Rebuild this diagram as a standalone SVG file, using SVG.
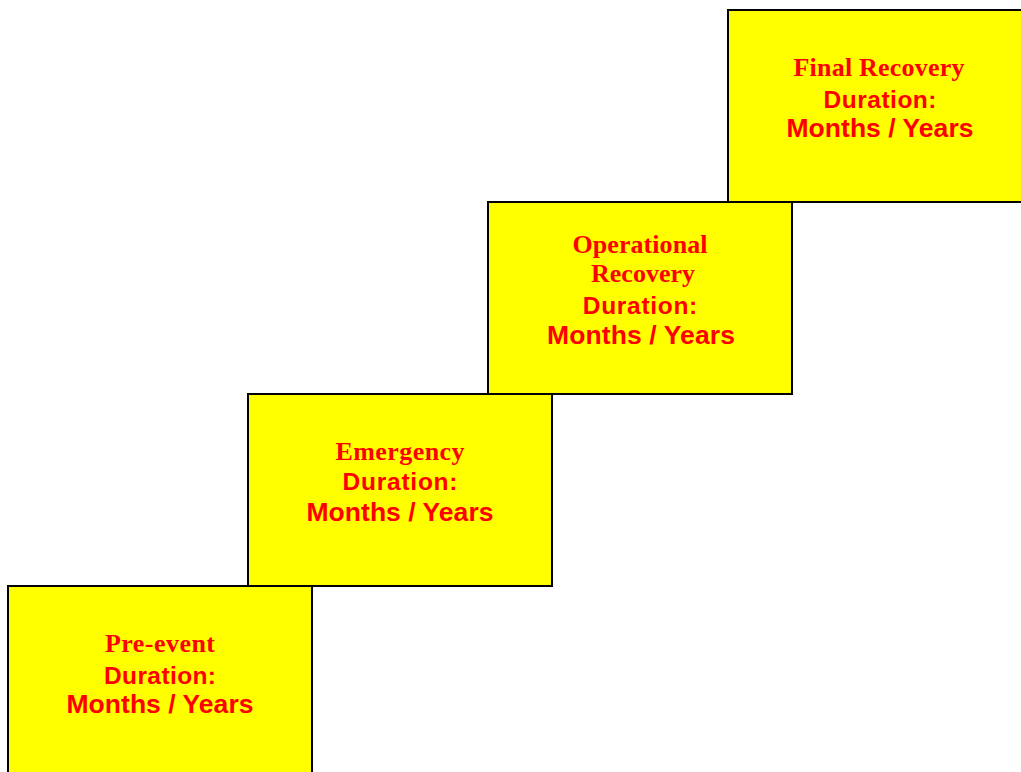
<svg xmlns="http://www.w3.org/2000/svg" width="1021" height="772" viewBox="0 0 1021 772">
<style>
.box{fill:#FFFF00;stroke:#000;stroke-width:2}
.t1{font-family:"Liberation Serif","Times New Roman",serif;font-weight:bold;font-size:26px;fill:#FF0000;text-anchor:middle}
.t2{font-family:"Liberation Sans",Arial,sans-serif;font-weight:bold;font-size:24.5px;fill:#FF0000;text-anchor:middle}
.t3{font-family:"Liberation Sans",Arial,sans-serif;font-weight:bold;font-size:26.5px;fill:#FF0000;text-anchor:middle}
</style>
<rect width="1021" height="772" fill="#FFFFFF"/>
<g id="pre-event">
<rect class="box" x="8" y="586" width="304" height="192"/>
<text class="t1" x="160" y="652" textLength="110" lengthAdjust="spacing">Pre-event</text>
<text class="t2" x="160" y="683.5" textLength="112" lengthAdjust="spacing">Duration:</text>
<text class="t3" x="160" y="712.5" textLength="187" lengthAdjust="spacing">Months / Years</text>
</g>
<g id="emergency">
<rect class="box" x="248" y="394" width="304" height="192"/>
<text class="t1" x="400" y="460" textLength="129" lengthAdjust="spacing">Emergency</text>
<text class="t2" x="400" y="490" textLength="115" lengthAdjust="spacing">Duration:</text>
<text class="t3" x="400" y="521" textLength="187" lengthAdjust="spacing">Months / Years</text>
</g>
<g id="operational-recovery">
<rect class="box" x="488" y="202" width="304" height="192"/>
<text class="t1" x="640" y="252.5" textLength="135" lengthAdjust="spacing">Operational</text>
<text class="t1" x="643" y="282" textLength="104" lengthAdjust="spacing">Recovery</text>
<text class="t2" x="640" y="313.5" textLength="114.5" lengthAdjust="spacing">Duration:</text>
<text class="t3" x="641" y="343.5" textLength="188" lengthAdjust="spacing">Months / Years</text>
</g>
<g id="final-recovery">
<rect class="box" x="728" y="10" width="304" height="192"/>
<text class="t1" x="879" y="76" textLength="171" lengthAdjust="spacing">Final Recovery</text>
<text class="t2" x="880" y="108.3" textLength="113" lengthAdjust="spacing">Duration:</text>
<text class="t3" x="880" y="136.7" textLength="187" lengthAdjust="spacing">Months / Years</text>
</g>
<g id="connectors"></g>
</svg>
